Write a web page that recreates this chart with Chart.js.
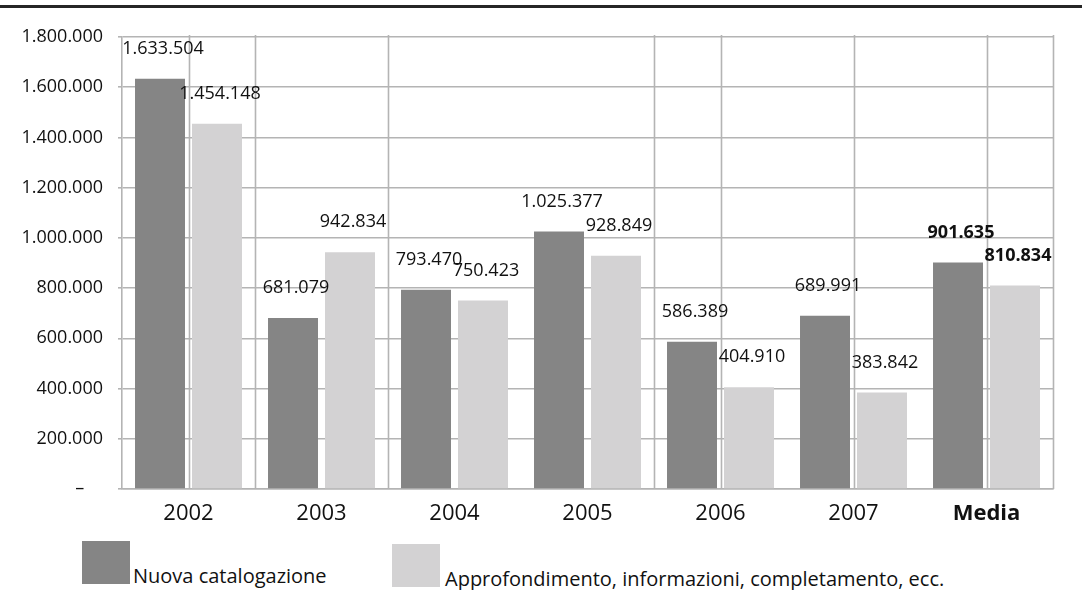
<!DOCTYPE html>
<html>
<head>
<meta charset="utf-8">
<script src="https://cdn.jsdelivr.net/npm/chart.js@4.4.0/dist/chart.umd.min.js"></script>
<style>
html,body{margin:0;padding:0;background:#fff;}
#wrap{position:relative;width:1082px;height:590px;overflow:hidden;font-family:"Open Sans",sans-serif;}
#topline{position:absolute;left:0;top:5px;width:1082px;height:3px;background:#262626;}
#cbox{position:absolute;left:0;top:0;width:1082px;height:540px;}
.leg{position:absolute;display:flex;align-items:flex-end;font-size:20px;line-height:1;color:#111;white-space:nowrap;}
.leg span{position:relative;top:2px;}
.sw{width:48px;height:43px;margin-right:3px;flex:none;}
</style>
</head>
<body>
<div id="wrap">
  <div id="topline"></div>
  <div id="cbox"><canvas id="c"></canvas></div>
  <div class="leg" id="leg1" style="left:82px;top:541px;"><div class="sw" id="sw1"></div><span id="lt1"></span></div>
  <div class="leg" id="leg2" style="left:392px;top:544px;"><div class="sw" id="sw2"></div><span id="lt2" style="margin-left:2px"></span></div>
</div>
<script>
// ---- data ----
const categories = ['2002', '2003', '2004', '2005', '2006', '2007', 'Media'];
const nuovaCatalogazione = [1633504, 681079, 793470, 1025377, 586389, 689991, 901635];
const approfondimento = [1454148, 942834, 750423, 928849, 404910, 383842, 810834];
const seriesNames = ['Nuova catalogazione', 'Approfondimento, informazioni, completamento, ecc.'];
const yTickValues = [0, 200000, 400000, 600000, 800000, 1000000, 1200000, 1400000, 1600000, 1800000];

// ---- style ----
const DARK = '#858585';
const LIGHT = '#d3d2d3';
const GRID = '#b4b4b4';
const FONT = '"Open Sans", sans-serif';

function fmt(n) {
  return String(n).replace(/\B(?=(\d{3})+(?!\d))/g, '.');
}

document.getElementById('sw1').style.background = DARK;
document.getElementById('sw2').style.background = LIGHT;
document.getElementById('lt1').textContent = seriesNames[0];
document.getElementById('lt2').textContent = seriesNames[1];

// vertical rules in category units (as in the reference)
const verticalRules = {
  id: 'verticalRules',
  beforeDatasetsDraw(chart) {
    const x = chart.scales.x, area = chart.chartArea, ctx = chart.ctx;
    const p0 = x.getPixelForValue(0), step = x.getPixelForValue(1) - p0;
    const at = [0, 0.5, 1.5, 3.5, 4, 5, 6, 6.5];
    ctx.save();
    ctx.strokeStyle = GRID;
    ctx.lineWidth = 1.6;
    at.forEach(u => {
      const px = Math.round(p0 + u * step) + 0.5;
      ctx.beginPath();
      ctx.moveTo(px, area.top - 2);
      ctx.lineTo(px, area.bottom);
      ctx.stroke();
    });
    ctx.restore();
  }
};

const valueLabels = {
  id: 'valueLabels',
  afterDatasetsDraw(chart) {
    const ctx = chart.ctx;
    ctx.save();
    ctx.fillStyle = '#111';
    ctx.textAlign = 'center';
    ctx.textBaseline = 'middle';
    chart.data.datasets.forEach((ds, di) => {
      const meta = chart.getDatasetMeta(di);
      meta.data.forEach((bar, i) => {
        const bold = i === categories.length - 1;
        ctx.font = (bold ? 'bold ' : '') + '18px ' + FONT;
        ctx.fillText(fmt(ds.data[i]), bar.x + 3, bar.y - 30);
      });
    });
    ctx.restore();
  }
};

new Chart(document.getElementById('c'), {
  type: 'bar',
  data: {
    labels: categories,
    datasets: [
      { label: seriesNames[0], data: nuovaCatalogazione, backgroundColor: DARK, borderWidth: 0 },
      { label: seriesNames[1], data: approfondimento, backgroundColor: LIGHT, borderWidth: 0 }
    ]
  },
  options: {
    responsive: true,
    maintainAspectRatio: false,
    animation: false,
    datasets: { bar: { categoryPercentage: 0.857, barPercentage: 0.877 } },
    layout: { padding: { top: 37, right: 29, left: 0, bottom: 0 } },
    plugins: { legend: { display: false }, tooltip: { enabled: false } },
    scales: {
      x: {
        grid: { display: false, drawTicks: false },
        border: { display: true, color: GRID, width: 1.6 },
        ticks: {
          color: '#111',
          padding: 12,
          font: (c) => ({ family: FONT, size: 22, weight: c.index === categories.length - 1 ? 'bold' : 'normal' })
        },
        afterFit(s) { s.height = 51; }
      },
      y: {
        min: 0,
        max: 1800000,
        afterBuildTicks(s) { s.ticks = yTickValues.map(v => ({ value: v })); },
        grid: { color: GRID, lineWidth: 1.6, tickLength: 4, drawTicks: true },
        border: { display: true, color: GRID, width: 1.6 },
        ticks: {
          color: '#111',
          padding: 15,
          font: { family: FONT, size: 18 },
          callback: (v) => v === 0 ? '\u2013    ' : fmt(v)
        },
        afterFit(s) { s.width = 122; }
      }
    }
  },
  plugins: [verticalRules, valueLabels]
});
</script>
</body>
</html>
